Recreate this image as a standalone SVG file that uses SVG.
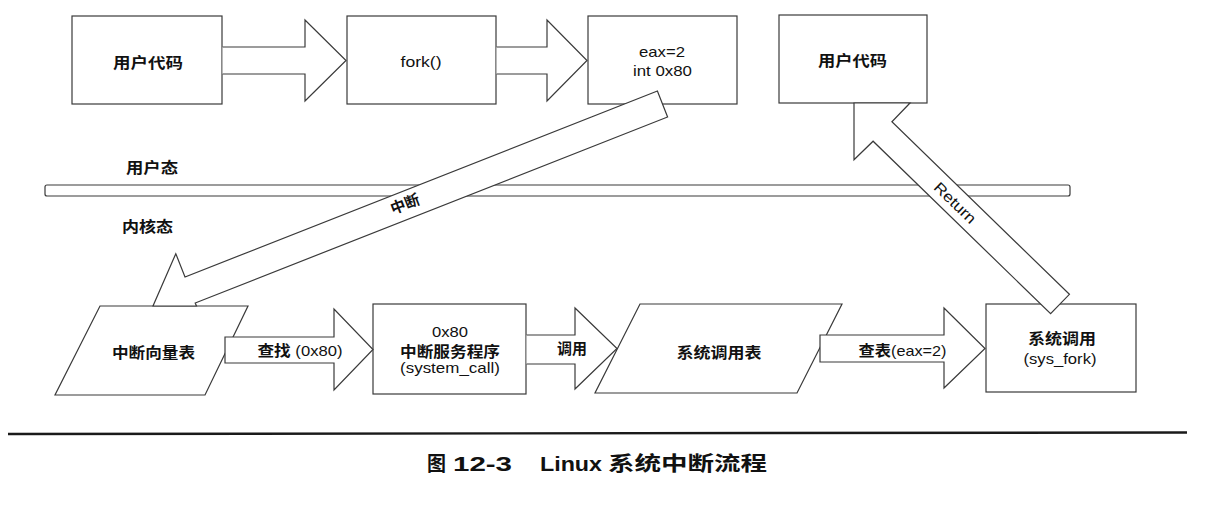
<svg xmlns="http://www.w3.org/2000/svg" width="1232" height="516" viewBox="0 0 1232 516">
<style>
.shape{fill:#fff;stroke:#3a3a3a;stroke-width:1.2;stroke-linejoin:miter}
.t{font-family:"Liberation Sans","Noto Sans CJK SC",sans-serif;font-size:15px;fill:#111;text-anchor:middle}
.b{font-weight:700}
.cap{font-family:"Liberation Sans","Noto Sans CJK SC",sans-serif;font-size:20px;fill:#111;font-weight:700}
</style>
<rect width="1232" height="516" fill="#fff"/>
<g id="mode-divider">
  <rect class="shape" x="45" y="185" width="1025" height="11" rx="2"/>
  <text class="t b" x="152" y="172.5" textLength="52" lengthAdjust="spacingAndGlyphs">用户态</text>
  <text class="t b" x="147.5" y="231.5" textLength="51" lengthAdjust="spacingAndGlyphs">内核态</text>
</g>
<g id="user-code">
  <rect class="shape" x="72" y="16" width="150" height="88"/>
  <text class="t b" x="148" y="67.5" textLength="70" lengthAdjust="spacingAndGlyphs">用户代码</text>
</g>
<g id="fork">
  <rect class="shape" x="347" y="16" width="149" height="88"/>
  <text class="t" x="421" y="67" textLength="41" lengthAdjust="spacingAndGlyphs">fork()</text>
</g>
<g id="int80">
  <rect class="shape" x="588" y="16" width="149" height="88"/>
  <text class="t" x="662" y="57" textLength="46" lengthAdjust="spacingAndGlyphs">eax=2</text>
  <text class="t" x="662.5" y="75.5" textLength="59" lengthAdjust="spacingAndGlyphs">int 0x80</text>
</g>
<g id="user-code-return">
  <rect class="shape" x="779" y="15" width="148" height="88"/>
  <text class="t b" x="852.5" y="65.5" textLength="69" lengthAdjust="spacingAndGlyphs">用户代码</text>
</g>
<g id="vector-table">
  <polygon class="shape" points="100,306 248,306 205,395 55,395"/>
  <text class="t b" x="153.5" y="357.5" textLength="83" lengthAdjust="spacingAndGlyphs">中断向量表</text>
</g>
<g id="system-call-handler">
  <rect class="shape" x="373" y="304" width="153" height="90"/>
  <text class="t" x="450" y="336.5" textLength="36" lengthAdjust="spacingAndGlyphs">0x80</text>
  <text class="t b" x="450" y="356.5" textLength="100" lengthAdjust="spacingAndGlyphs">中断服务程序</text>
  <text class="t" x="450" y="373" textLength="100" lengthAdjust="spacingAndGlyphs">(system_call)</text>
</g>
<g id="syscall-table">
  <polygon class="shape" points="640,304 842,304 797,393 595,393"/>
  <text class="t b" x="719" y="357.5" textLength="85" lengthAdjust="spacingAndGlyphs">系统调用表</text>
</g>
<g id="sys-fork">
  <rect class="shape" x="986" y="304" width="150" height="88"/>
  <text class="t b" x="1062" y="343.5" textLength="68" lengthAdjust="spacingAndGlyphs">系统调用</text>
  <text class="t" x="1060" y="364" textLength="73" lengthAdjust="spacingAndGlyphs">(sys_fork)</text>
</g>
<g id="connectors">
  <path class="shape" d="M222.6,47 H305 V20 L346,60.5 L305,101 V74 H222.6"/>
  <path class="shape" d="M496.6,47 H547 V20 L587,60.5 L547,101 V74 H496.6"/>
  <polygon class="shape" points="657.4,91 185,277 175.8,253.7 153,306 196.5,306 195.2,303 667.6,117"/>
  <text class="t b" transform="translate(405,204) rotate(-21.5)" x="0" y="5.5">中断</text>
  <polygon class="shape" points="225,337 334,337 334,309 373,349.5 334,390 334,363 225,363"/>
  <text class="t" x="300" y="355.5" textLength="85" lengthAdjust="spacingAndGlyphs"><tspan class="b">查找</tspan> (0x80)</text>
  <path class="shape" d="M526.6,335 H575 V308 L617,348.5 L575,389 V364 H526.6"/>
  <text class="t b" x="572" y="353.5" textLength="30" lengthAdjust="spacingAndGlyphs">调用</text>
  <polygon class="shape" points="820,335 944,335 944,308 985,348.5 944,388 944,362 820,362"/>
  <text class="t" x="902.5" y="355.5" textLength="88" lengthAdjust="spacingAndGlyphs"><tspan class="b">查表</tspan>(eax=2)</text>
  <polygon class="shape" points="1069.4,294.3 891.9,121.8 910,103 854,103 854,159.8 873.1,141.2 1050.6,313.7"/>
  <text class="t" transform="translate(955,203) rotate(44)" x="0" y="5" textLength="52" lengthAdjust="spacingAndGlyphs">Return</text>
</g>
<g id="caption">
  <line x1="8" y1="434" x2="1187" y2="432.5" stroke="#1a1a1a" stroke-width="2.4"/>
  <text class="cap" y="471"><tspan x="427" textLength="19" lengthAdjust="spacingAndGlyphs">图</tspan><tspan x="453" textLength="59" lengthAdjust="spacingAndGlyphs">12-3</tspan><tspan x="540" textLength="62" lengthAdjust="spacingAndGlyphs">Linux</tspan><tspan x="608" textLength="159" lengthAdjust="spacingAndGlyphs">系统中断流程</tspan></text>
</g>
</svg>
